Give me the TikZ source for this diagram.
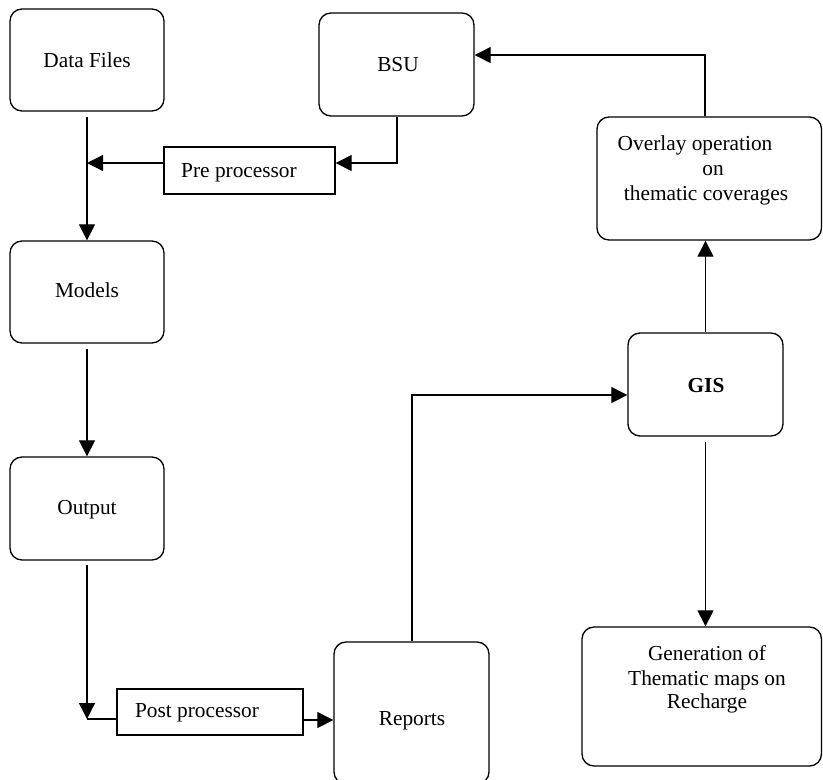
\documentclass[tikz,border=0pt]{standalone}
\usepackage{fontspec}
\setmainfont{Liberation Serif}
\usetikzlibrary{fit,arrows.meta}
\begin{document}
\begin{tikzpicture}[x=0.75pt,y=-0.75pt,
  rbox/.style={draw, line width=1pt, rounded corners=9pt, inner sep=0pt},
  sbox/.style={draw, line width=1pt, inner sep=0pt},
  lbl/.style={anchor=base, inner sep=0pt, font=\fontsize{16}{18}\selectfont},
  conn/.style={line width=0.9pt},
  arr/.style={conn, -{Triangle[length=12pt,width=12pt]}}]
\useasboundingbox (0,0) rectangle (823,779);

% boxes
\node[rbox, fit={(10,9)(164,111)}] (data) {};
\node[rbox, fit={(319,13)(474,116)}] (bsu) {};
\node[sbox, fit={(164,147)(335,194)}] (pre) {};
\node[rbox, fit={(10,241)(164,343)}] (models) {};
\node[rbox, fit={(10,457)(164,560)}] (output) {};
\node[sbox, fit={(117,689)(303,735)}] (post) {};
\node[rbox, fit={(334,642)(489,784)}] (reports) {};
\node[rbox, fit={(628,333)(783,436)}] (gis) {};
\node[rbox, fit={(597,117)(821.5,240)}] (overlay) {};
\node[rbox, fit={(582,627)(821.5,766)}] (gen) {};

% labels
\node[lbl] (datat) at (87,67) {Data Files};
\node[lbl] (bsut) at (398,71) {BSU};
\node[lbl] (pret) at (239,177) {Pre processor};
\node[lbl] (modelst) at (87,297) {Models};
\node[lbl] (outputt) at (87,514) {Output};
\node[lbl] (postt) at (197,717) {Post processor};
\node[lbl] (reportst) at (412,725) {Reports};
\node[lbl, font=\fontsize{16}{18}\selectfont\bfseries] (gist) at (706,392) {GIS};
\node[lbl] (ovl1) at (695,150) {Overlay operation};
\node[lbl] (ovl2) at (713,175) {on};
\node[lbl] (ovl3) at (706,200) {thematic coverages};
\node[lbl] (gen1) at (707,660) {Generation of};
\node[lbl] (gen2) at (707,685) {Thematic maps on};
\node[lbl] (gen3) at (707,708) {Recharge};

% connectors
\coordinate (preY) at (87,163);
\coordinate (bsuBend) at (397,163);
\coordinate (postBend) at (87,719);
\coordinate (postY) at (303,720);
\coordinate (gisBend) at (412,395);
\coordinate (ovlBend) at (705,55);

\draw[arr, shorten <=4pt] (data.south) -- (models.north);
\draw[arr] (pre.west |- preY) -- (preY);
\draw[arr] (bsu.south -| bsuBend) -- (bsuBend) -- (pre.east |- bsuBend);
\draw[arr, shorten <=4pt] (models.south) -- (output.north);
\draw[arr, shorten <=3pt] (output.south) -- (postBend);
\draw[conn] (postBend) -- (post.west |- postBend);
\draw[arr] (post.east |- postY) -- (reports.west |- postY);
\draw[arr] (reports.north -| gisBend) -- (gisBend) -- (gis.west |- gisBend);
\draw[arr] (gis.north) -- (gis.north |- overlay.south);
\draw[arr] (overlay.north -| ovlBend) -- (ovlBend) -- (bsu.east |- ovlBend);
\draw[arr, shorten <=4pt] (gis.south) -- (gis.south |- gen.north);
\end{tikzpicture}
\end{document}
